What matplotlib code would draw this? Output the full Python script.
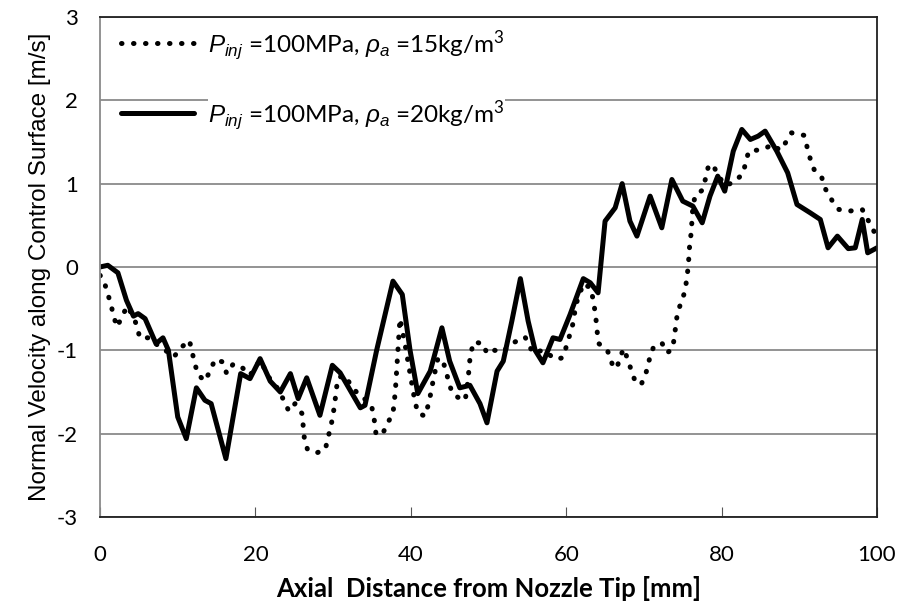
import numpy as np
import matplotlib
matplotlib.use('Agg')
import matplotlib.pyplot as plt

plt.rcParams['mathtext.fontset'] = 'custom'
plt.rcParams['mathtext.rm'] = 'Lato'
plt.rcParams['mathtext.it'] = 'Liberation Sans:italic'
plt.rcParams['axes.unicode_minus'] = False

# rho_a = 20 kg/m3 (solid)
solid_x = [0, 1, 2.3, 3.4, 4.3, 4.9, 5.8, 7.2, 8.1, 8.8, 10, 11.1, 12.4, 13.5, 14.3,
           16.2, 18.1, 19.3, 20.6, 21.9, 23.2, 24.5, 25.5, 26.6, 28.3, 29.9, 30.9,
           33.5, 34.1, 35.6, 37.7, 38.9, 39.9, 40.9, 42.5, 44, 45, 46.3, 47.6, 48.9,
           49.8, 51.1, 51.9, 53, 54.1, 55.1, 56, 57, 58.3, 59.2, 60.5, 62.2, 63.1,
           64.1, 65, 66.3, 67.2, 68.2, 69.1, 70.8, 72.3, 73.6, 75, 76.3, 77.5, 78.5,
           79.5, 80.4, 81.5, 82.6, 83.7, 84.7, 85.6, 87.1, 88.5, 89.7, 91.4, 92.7,
           93.7, 94.9, 96.3, 97.2, 98.1, 98.8, 100]
solid_y = [0.0, 0.02, -0.07, -0.4, -0.59, -0.56, -0.62, -0.92, -0.85, -1.0, -1.8, -2.06,
           -1.45, -1.6, -1.64, -2.3, -1.28, -1.34, -1.1, -1.37, -1.5, -1.28, -1.58, -1.33,
           -1.78, -1.18, -1.27, -1.69, -1.66, -1.0, -0.17, -0.33, -1.0, -1.52, -1.25,
           -0.73, -1.13, -1.45, -1.42, -1.64, -1.87, -1.25, -1.13, -0.65, -0.14, -0.65,
           -1.0, -1.15, -0.85, -0.87, -0.57, -0.14, -0.19, -0.31, 0.55, 0.71, 1.0, 0.55,
           0.37, 0.85, 0.47, 1.05, 0.79, 0.73, 0.53, 0.85, 1.09, 0.91, 1.39, 1.65, 1.53,
           1.57, 1.63, 1.39, 1.13, 0.75, 0.65, 0.57, 0.23, 0.37, 0.22, 0.23, 0.57, 0.17,
           0.23]

# rho_a = 15 kg/m3 (dotted)
dot_x = [0, 0.5, 0.9, 1.4, 1.7, 2.2, 2.8, 3.5, 4.3, 4.8, 5.1, 6.5, 7.5, 8.4, 9.5, 10.4,
         11.5, 11.8, 12.2, 12.6, 13.5, 14.2, 14.8, 15.8, 16.3, 17.1, 18, 19.3, 20.6,
         21.9, 22.8, 23.6, 24.3, 25.1, 26, 26.3, 26.7, 27.9, 29, 29.3, 29.7, 30, 30.2,
         30.4, 30.6, 31.5, 32.5, 33.5, 34.3, 35, 35.3, 35.5, 36.3, 36.9, 37.7, 38,
         38.2, 38.4, 38.6, 39.2, 40.5, 40.9, 41.8, 42.3, 42.6, 42.9, 43.2, 43.5, 44.2,
         44.6, 44.9, 45.4, 46.3, 47, 47.4, 47.5, 47.7, 48.1, 49.3, 49.8, 50.8, 51.7,
         53.4, 54.7, 55.7, 57, 58.7, 59.5, 60, 60.5, 60.9, 61.1, 61.4, 62.2, 63.1,
         63.5, 63.8, 64, 64.2, 65.3, 65.9, 66.5, 66.9, 67.4, 68, 68.5, 69, 69.7, 70.3,
         70.7, 71.2, 72.3, 73, 73.7, 73.9, 74.1, 74.3, 74.8, 75.3, 75.5, 75.7, 75.8,
         75.9, 76.1, 76.2, 76.3, 76.6, 77.5, 77.9, 78.3, 78.9, 79.5, 80.5, 81.7, 82.8,
         83.1, 83.5, 85.3, 86.6, 87.5, 88.3, 89, 90.6, 91, 91.4, 91.9, 92.9, 93.4,
         94.2, 95.1, 96.4, 98.1, 98.8, 99.5, 100]
dot_y = [-0.1, -0.16, -0.3, -0.44, -0.58, -0.72, -0.6, -0.47, -0.6, -0.72, -0.85, -0.85,
         -0.95, -1.0, -1.08, -0.97, -0.88, -1.0, -1.16, -1.29, -1.37, -1.24, -1.11,
         -1.14, -1.28, -1.17, -1.18, -1.3, -1.12, -1.35, -1.45, -1.59, -1.73, -1.64,
         -1.76, -2.06, -2.19, -2.23, -2.19, -2.06, -1.92, -1.77, -1.64, -1.48, -1.33,
         -1.3, -1.45, -1.55, -1.6, -1.69, -1.84, -1.99, -2.02, -1.89, -1.76, -1.5,
         -1.21, -0.91, -0.62, -0.9, -1.6, -1.75, -1.79, -1.64, -1.5, -1.35, -1.22,
         -1.09, -1.15, -1.27, -1.4, -1.52, -1.58, -1.6, -1.33, -1.19, -1.04, -0.9,
         -0.92, -1.04, -1.0, -1.02, -0.9, -0.84, -1.03, -1.0, -1.11, -1.09, -0.96,
         -0.8, -0.67, -0.54, -0.41, -0.2, -0.25, -0.4, -0.6, -0.79, -0.92, -1.0, -1.16,
         -1.22, -1.09, -0.98, -1.13, -1.28, -1.4, -1.4, -1.26, -1.11, -0.97, -0.91,
         -1.03, -0.98, -0.85, -0.71, -0.56, -0.42, -0.29, -0.14, 0.0, 0.14, 0.28, 0.42,
         0.59, 0.72, 0.86, 0.92, 1.05, 1.21, 1.23, 1.1, 0.98, 1.02, 1.13, 1.26, 1.39,
         1.41, 1.47, 1.4, 1.5, 1.61, 1.58, 1.44, 1.3, 1.17, 1.07, 0.93, 0.8, 0.69, 0.67,
         0.69, 0.57, 0.45, 0.34]

labels = [r'$P_{inj}$ =100MPa, $\rho_{a}$ =15kg/m$^3$',
          r'$P_{inj}$ =100MPa, $\rho_{a}$ =20kg/m$^3$']
xticks = [0, 20, 40, 60, 80, 100]
yticks = [-3, -2, -1, 0, 1, 2, 3]

fig = plt.figure(figsize=(9.02, 6.10), dpi=100)
ax = fig.add_axes([0.1109, 0.1525, 0.8614, 0.8197])

ax.plot(dot_x, dot_y, color='black', lw=3.6, linestyle=(0, (0.1, 2.3)),
        dash_capstyle='round', label=labels[0])
ax.plot(solid_x, solid_y, color='black', lw=3.6, solid_joinstyle='round',
        solid_capstyle='round', label=labels[1])

ax.set_xlim(0, 100)
ax.set_ylim(-3, 3)
ax.set_xticks(xticks)
ax.set_yticks(yticks)
ax.yaxis.grid(True, color='#8a8a8a', lw=1.3)
ax.set_axisbelow(True)

for s in ['top', 'right', 'bottom']:
    ax.spines[s].set_color('#202020')
    ax.spines[s].set_linewidth(1.3)
ax.spines['left'].set_color('#8a8a8a')
ax.spines['left'].set_linewidth(1.3)

ax.tick_params(axis='x', direction='in', length=7, color='#555555', pad=20,
               labelsize=16)
ax.tick_params(axis='y', length=0, pad=16, labelsize=16)
for t in ax.get_xticklabels() + ax.get_yticklabels():
    t.set_family(['Lato', 'DejaVu Sans'])

ax.set_xlabel('Axial  Distance from Nozzle Tip [mm]', fontsize=18.5, fontweight='bold',
              family=['Lato', 'DejaVu Sans'], labelpad=8)
ax.set_ylabel('Normal Velocity along Control Surface [m/s]', fontsize=17.5,
              family=['Liberation Sans', 'DejaVu Sans'], labelpad=4)

leg = ax.legend(loc='upper left', bbox_to_anchor=(0.005, 1.012), frameon=False,
                handlelength=3.0, handletextpad=0.6, labelspacing=1.5,
                borderpad=0.2, prop={'family': ['Lato', 'DejaVu Sans'], 'size': 17.5})
for t in leg.get_texts():
    t.set_bbox(dict(facecolor='white', edgecolor='none', pad=0))

fig.savefig('out.png', dpi=100)
